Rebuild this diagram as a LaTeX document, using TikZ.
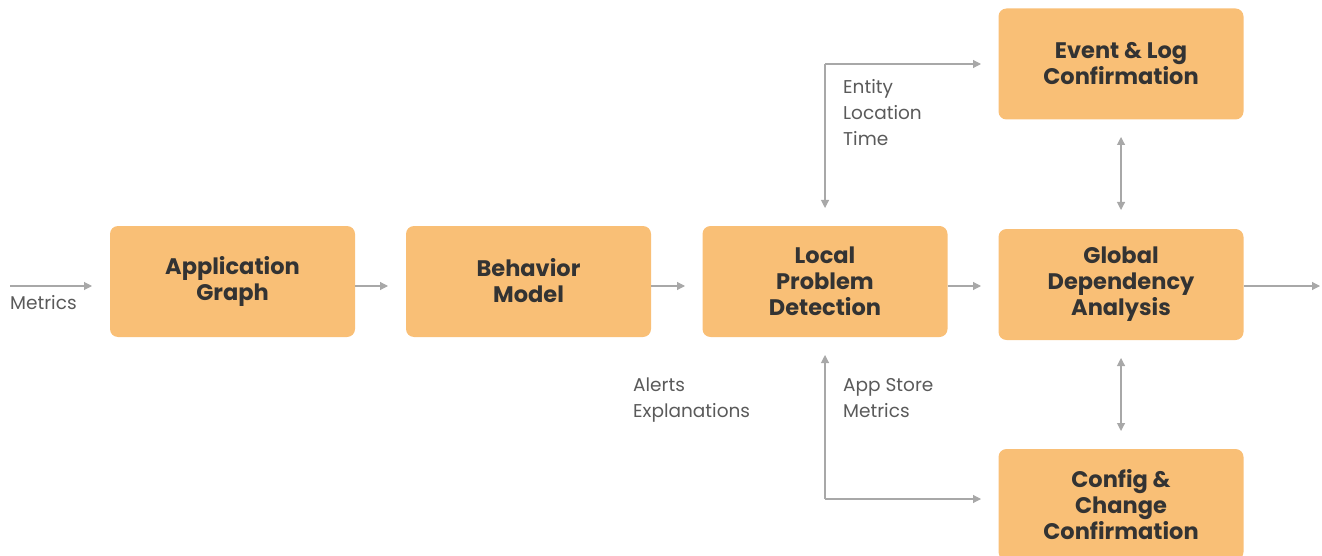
\documentclass[tikz,border=0pt]{standalone}
\usepackage{fontspec}
\setmainfont{Poppins}
\usetikzlibrary{arrows.meta}
\definecolor{boxfill}{HTML}{F9BF76}
\definecolor{boxtext}{HTML}{333333}
\definecolor{arrowcol}{HTML}{A8A8A8}
\definecolor{labtext}{HTML}{5A5A5A}
\begin{document}
\begin{tikzpicture}[x=1pt,y=-1pt,
  box/.style={fill=boxfill,rounded corners=8pt,minimum width=245pt,minimum height=111pt,
    inner sep=0pt,align=center,text=boxtext,font=\fontsize{22.5}{26}\selectfont\bfseries},
  conn/.style={draw=arrowcol,line width=1.1pt,-{Triangle[length=8pt,width=8pt]}},
  dconn/.style={draw=arrowcol,line width=1.1pt,{Triangle[length=8pt,width=8pt]}-{Triangle[length=8pt,width=8pt]}},
  lab/.style={text=labtext,font=\fontsize{18.5}{26}\selectfont,align=left,anchor=north west,inner sep=0pt}]
\useasboundingbox (0,0) rectangle (1322,556);
\node[box] (ag) at (232.5,281.5) {Application\\Graph};
\node[box,text depth=3pt] (bm) at (528.5,281.5) {Behavior\\Model};
\node[box] (lpd) at (825,281.5) {Local\\Problem\\Detection};
\node[box] (gda) at (1121,284.5) {Global\\Dependency\\Analysis};
\node[box] (elc) at (1121,64) {Event \& Log\\Confirmation};
\node[box] (ccc) at (1121,504.5) {Config \&\\Change\\Confirmation};
\coordinate (min) at (10,286);
\coordinate (minend) at (92,286);
\coordinate (mout) at (1320,286);
\coordinate (topc) at (825,64);
\coordinate (topend) at (981,64);
\coordinate (topdn) at (825,208);
\coordinate (botc) at (825,499);
\coordinate (botend) at (981,499);
\coordinate (botup) at (825,355);
\coordinate (v1a) at (1121,137);
\coordinate (v1b) at (1121,210);
\coordinate (v2a) at (1121,358);
\coordinate (v2b) at (1121,431);
\coordinate (a1) at (388,286);
\coordinate (a2) at (685,286);
\coordinate (a3) at (981,286);
\draw[conn] (min) -- (minend);
\draw[conn] (ag.east |- min) -- (a1);
\draw[conn] (bm.east |- min) -- (a2);
\draw[conn] (lpd.east |- min) -- (a3);
\draw[conn] (gda.east |- min) -- (mout);
\draw[conn] (topc) -- (topend);
\draw[conn] (topc) -- (topdn);
\draw[conn] (botc) -- (botup);
\draw[conn] (botc) -- (botend);
\draw[dconn] (v1a) -- (v1b);
\draw[dconn] (v2a) -- (v2b);
\node[lab] (mlab) at (10,295) {Metrics};
\node[lab] (elt) at (843,79) {Entity\\Location\\Time};
\node[lab] (asm) at (843,378) {App Store\\Metrics};
\node[lab] (ale) at (633,378) {Alerts\\Explanations};
\end{tikzpicture}
\end{document}
